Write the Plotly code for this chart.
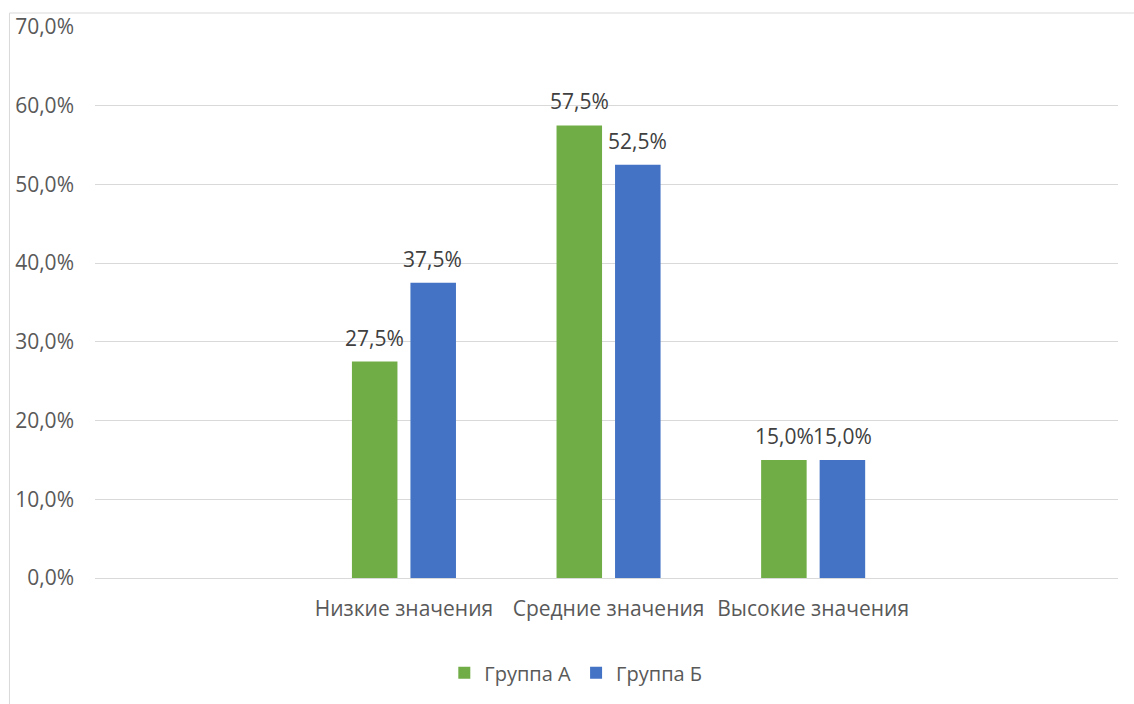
import plotly.graph_objects as go

categories = ["Низкие значения", "Средние значения", "Высокие значения"]
group_a = [27.5, 57.5, 15.0]
group_b = [37.5, 52.5, 15.0]
series_names = ["Группа А", "Группа Б"]
y_ticks = [0, 10, 20, 30, 40, 50, 60, 70]
y_tick_labels = ["0,0%", "10,0%", "20,0%", "30,0%", "40,0%", "50,0%", "60,0%", "70,0%"]

def fmt(v):
    return f"{v:.1f}%".replace(".", ",")

FONT = "Open Sans"
SIZE = 21
colors = ["#70AD47", "#4472C4"]
fig = go.Figure()
for name, vals, color in [(series_names[0], group_a, colors[0]),
                          (series_names[1], group_b, colors[1])]:
    fig.add_trace(go.Bar(
        x=categories, y=vals, name=name,
        marker=dict(color=color, line=dict(width=0)),
        hovertemplate="%{x}: %{y:.1f}%<extra>" + name + "</extra>",
    ))

# data labels above bars (offset to each bar of the group)
annotations = []
for vals, xshift in [(group_a, -29), (group_b, 29)]:
    for c, v in zip(categories, vals):
        annotations.append(dict(
            x=c, y=v, xref="x", yref="y", text=fmt(v), showarrow=False,
            xshift=xshift, yshift=24, yanchor="middle", xanchor="center",
            font=dict(family=FONT, size=SIZE, color="#404040"),
        ))

fig.update_layout(
    width=1134, height=704,
    margin=dict(l=95, r=16, t=27, b=126),
    paper_bgcolor="white", plot_bgcolor="white",
    barmode="group", bargap=0.428, bargroupgap=0.222,
    font=dict(family=FONT, size=SIZE, color="#595959"),
    showlegend=True,
    legend=dict(orientation="h", x=0.470, xanchor="center", y=-0.172, yanchor="middle",
                font=dict(family=FONT, size=20, color="#595959"), itemwidth=30,
                traceorder="normal"),
    xaxis=dict(type="category", range=[-1.51, 3.49], showgrid=False, showline=False,
               ticks="", tickfont=dict(family=FONT, size=SIZE, color="#595959"),
               ticklabelstandoff=16, fixedrange=True),
    yaxis=dict(range=[0, 70], tickvals=y_ticks, ticktext=y_tick_labels,
               showgrid=True, gridcolor="#D9D9D9", gridwidth=1,
               zeroline=True, zerolinecolor="#D9D9D9", zerolinewidth=1,
               showline=False, ticks="",
               tickfont=dict(family=FONT, size=SIZE, color="#595959"),
               ticklabelstandoff=20),
    annotations=annotations,
    shapes=[dict(type="rect", xref="paper", yref="paper",
                 x0=-0.0836, x1=1.2, y0=-0.6, y1=1.0254,
                 line=dict(color="#D9D9D9", width=1), layer="below")],
)

fig.write_html("out.html")
